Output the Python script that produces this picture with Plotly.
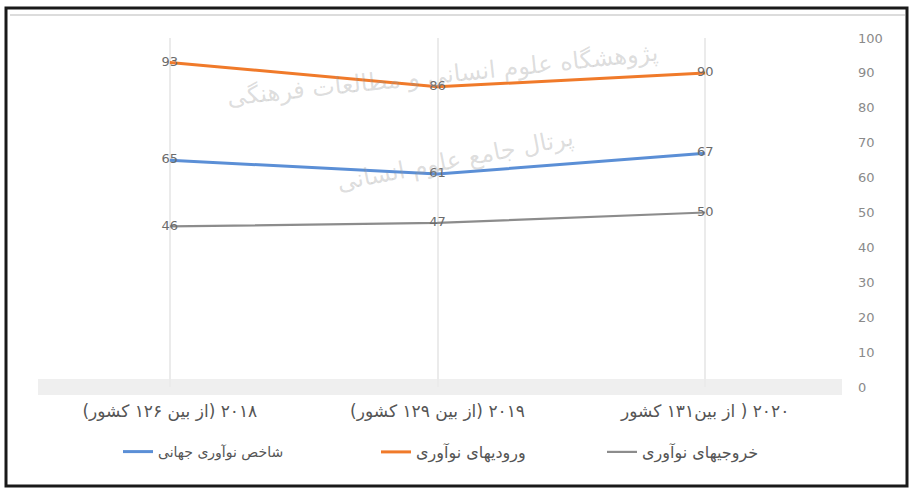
import plotly.graph_objects as go

categories = ["۲۰۱۸ (از بین ۱۲۶ کشور)", "۲۰۱۹ (از بین ۱۲۹ کشور)", "۲۰۲۰ ( از بین۱۳۱ کشور"]
gii = [65, 61, 67]
inputs = [93, 86, 90]
outputs = [46, 47, 50]
series_names = ["شاخص نوآوری جهانی", "ورودیهای نوآوری", "خروجیهای نوآوری"]
y_ticks = [0, 10, 20, 30, 40, 50, 60, 70, 80, 90, 100]

RLM = "\u200f"
tick_text = [RLM + c + RLM for c in categories]

colors = ["#5B8FD6", "#F07A2A", "#8C8C8C"]
widths = [3, 3, 2.2]
legend_ids = ["legend", "legend2", "legend3"]
legend_x_px = [118, 376, 602]
legend_sizes = [14, 16, 16]

W, H = 909, 488
L, R, T, B = 36, 70, 38, 101
pw, ph = W - L - R, H - T - B

def px(x):
    return (x - L) / pw

def py(y):
    return (H - B - y) / ph

fig = go.Figure()
for name, vals, c, w, lg in zip(series_names, [gii, inputs, outputs], colors, widths, legend_ids):
    fig.add_trace(go.Scatter(
        x=categories, y=vals, name=RLM + name + RLM, mode="lines+text",
        text=[str(v) for v in vals], textposition="middle center",
        textfont=dict(family="DejaVu Sans", size=13, color="#6b6b6b"),
        line=dict(color=c, width=w), cliponaxis=False, legend=lg,
    ))

shapes = [
    dict(type="rect", xref="paper", yref="paper", x0=px(38), x1=px(842), y0=py(395), y1=py(379),
         fillcolor="#efefef", line=dict(width=0), layer="below"),
    dict(type="rect", xref="paper", yref="paper", x0=px(6), x1=px(907), y0=py(486), y1=py(8),
         line=dict(color="#1a1a1a", width=3), fillcolor="rgba(0,0,0,0)"),
    dict(type="line", xref="paper", yref="paper", x0=px(10), x1=px(905), y0=py(15), y1=py(15),
         line=dict(color="#dcdcdc", width=2)),
]

annotations = [
    dict(text="پژوهشگاه علوم انسانی و مطالعات فرهنگی", xref="paper", yref="paper",
         x=px(442), y=py(75), xanchor="center", yanchor="middle", showarrow=False, textangle=-6,
         font=dict(family="DejaVu Sans", size=24, color="rgba(150,150,150,0.32)")),
    dict(text="پرتال جامع علوم انسانی", xref="paper", yref="paper",
         x=px(455), y=py(160), xanchor="center", yanchor="middle", showarrow=False, textangle=-11,
         font=dict(family="DejaVu Sans", size=24, color="rgba(150,150,150,0.32)")),
]

legends = {}
for lg, xp, fs in zip(legend_ids, legend_x_px, legend_sizes):
    legends[lg] = dict(orientation="h", x=px(xp), xanchor="left", y=py(452), yanchor="middle",
                       font=dict(family="DejaVu Sans", size=fs, color="#555555"),
                       bgcolor="rgba(0,0,0,0)")

fig.update_layout(
    width=W, height=H,
    margin=dict(l=L, r=R, t=T, b=B),
    paper_bgcolor="white", plot_bgcolor="white",
    showlegend=True,
    xaxis=dict(type="category", showgrid=True, gridcolor="#ebebeb", gridwidth=1.5,
               showline=False, zeroline=False, ticks="",
               tickvals=categories, ticktext=tick_text,
               tickfont=dict(family="DejaVu Sans", size=17, color="#555555"),
               ticklabelstandoff=12, range=[-0.5, 2.5]),
    yaxis=dict(side="right", range=[0, 100], tickvals=y_ticks, showgrid=False,
               zeroline=False, showline=False, ticks="",
               tickfont=dict(family="DejaVu Sans", size=13, color="#8a8a8a"),
               ticklabelstandoff=18),
    shapes=shapes, annotations=annotations,
    **legends,
)

fig.write_html("out.html", config={"displayModeBar": False},
               post_script="document.body.style.margin='0';")
